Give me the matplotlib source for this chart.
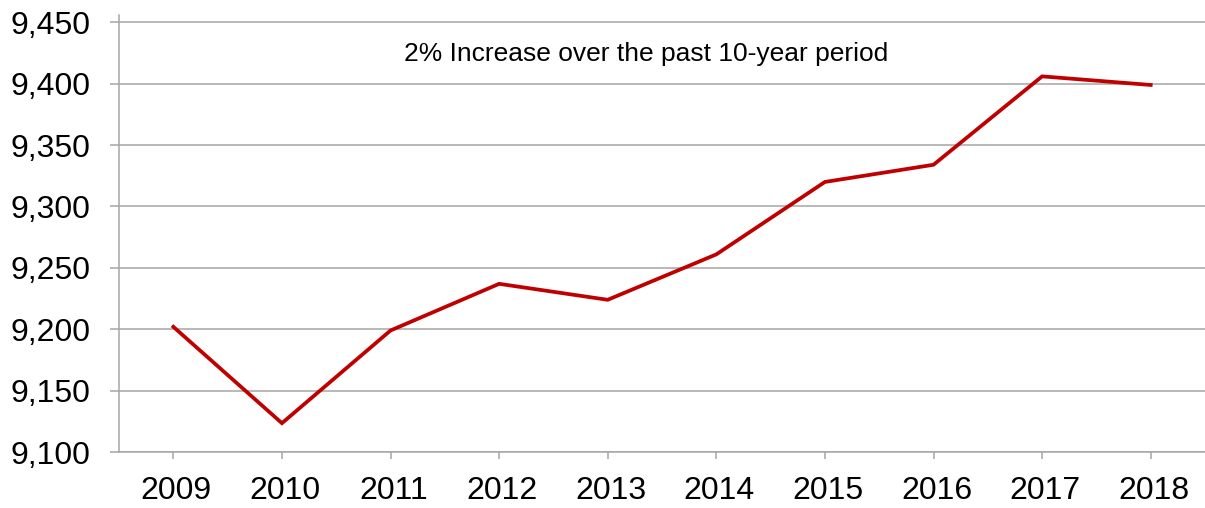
import numpy as np
import matplotlib
matplotlib.use('Agg')
import matplotlib.pyplot as plt
import matplotlib.transforms as mtransforms
from matplotlib.ticker import FuncFormatter

plt.rcParams['font.family'] = ['Liberation Sans', 'DejaVu Sans']

years = ['2009', '2010', '2011', '2012', '2013', '2014', '2015', '2016', '2017', '2018']
values = [9202, 9123.5, 9199, 9237, 9224, 9261, 9320, 9334, 9406, 9399]
y_ticks = [9100, 9150, 9200, 9250, 9300, 9350, 9400, 9450]
note = '2% Increase over the past 10-year period'

grid_color = '#a6a6a6'
line_color = '#c00000'

fig = plt.figure(figsize=(12.05, 5.08), dpi=100)
ax = fig.add_axes([0.0988, 0.1102, 0.9012, 0.8603])

x = np.arange(len(years))
ax.plot(x, values, color=line_color, lw=2.7, solid_joinstyle='miter')

ax.set_xlim(-0.5, len(years) - 0.5)
ax.set_ylim(9100, 9456)
ax.set_xticks(x)
ax.set_xticklabels(years)
ax.set_yticks(y_ticks)
ax.yaxis.set_major_formatter(FuncFormatter(lambda v, p: '{:,.0f}'.format(v)))

ax.grid(axis='y', color=grid_color, lw=1.1)
ax.set_axisbelow(True)
for s in ['top', 'right']:
    ax.spines[s].set_visible(False)
for s in ['left', 'bottom']:
    ax.spines[s].set_color(grid_color)
    ax.spines[s].set_linewidth(1.1)

ax.tick_params(axis='y', length=6.5, width=1.1, color=grid_color, pad=14,
               labelsize=23, labelcolor='black')
ax.tick_params(axis='x', length=5, width=1.1, color=grid_color, pad=12,
               labelsize=23, labelcolor='black')

# year labels sit a few pixels right of their ticks in the original
shift = mtransforms.ScaledTranslation(3 / 100, 0, fig.dpi_scale_trans)
for lab in ax.get_xticklabels():
    lab.set_transform(lab.get_transform() + shift)

fig.text(646 / 1205, 1 - 54 / 508, note, ha='center', va='center', fontsize=19)

fig.savefig('out.png', dpi=100)
